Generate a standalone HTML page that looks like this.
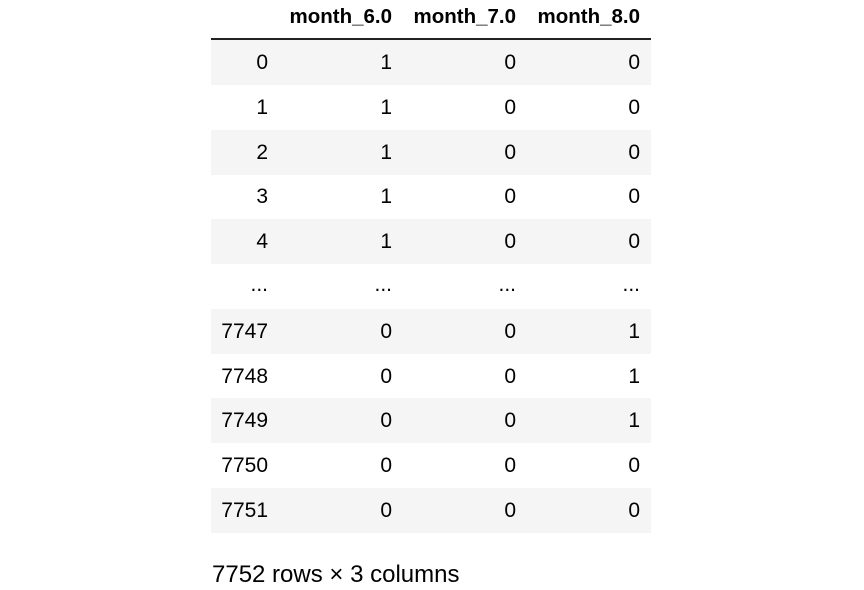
<!DOCTYPE html>
<html><head><meta charset="utf-8"><style>
body{margin:0;width:864px;height:590px;background:#fff;font-family:"Liberation Sans",Arial,sans-serif;color:#000;position:relative;overflow:hidden}
.t{position:absolute;left:211px;top:0;width:440px}
.h{position:absolute;top:0;height:38px;width:440px;border-bottom:2px solid #222}
.c{position:absolute;font-size:21px;text-align:right;line-height:22px}
.hb{font-weight:bold;font-size:20.5px}
.r{position:absolute;left:0;width:440px;height:45px}
.s{background:#f5f5f5}
.f{position:absolute;left:212px;top:561px;font-size:24px}
</style></head><body>
<div class="t" id="tbl">
<div class="h">
<div class="c hb" style="left:72px;width:109px;top:6px">month_6.0</div>
<div class="c hb" style="left:195px;width:110px;top:6px">month_7.0</div>
<div class="c hb" style="left:319px;width:110px;top:6px">month_8.0</div>
</div>
</div>
<div class="f">7752 rows × 3 columns</div>
<script>
const idx=["0","1","2","3","4","...","7747","7748","7749","7750","7751"];
const m6=["1","1","1","1","1","...","0","0","0","0","0"];
const m7=["0","0","0","0","0","...","0","0","0","0","0"];
const m8=["0","0","0","0","0","...","1","1","1","0","0"];
const t=document.getElementById('tbl');
const rights=[57,181,305,429];
idx.forEach((v,i)=>{
 const r=document.createElement('div');
 r.className='r'+(i%2===0?' s':'');
 r.style.top=(40+i*44.8)+'px';
 
 
 [v,m6[i],m7[i],m8[i]].forEach((val,j)=>{
  const c=document.createElement('div');
  c.className='c';
  c.style.left=(rights[j]-100)+'px';c.style.width='100px';
  c.style.top=(i===5?10:12)+'px';
  c.textContent=val;
  
  
  r.appendChild(c);
 });
 t.appendChild(r);
});
</script>
</body></html>
